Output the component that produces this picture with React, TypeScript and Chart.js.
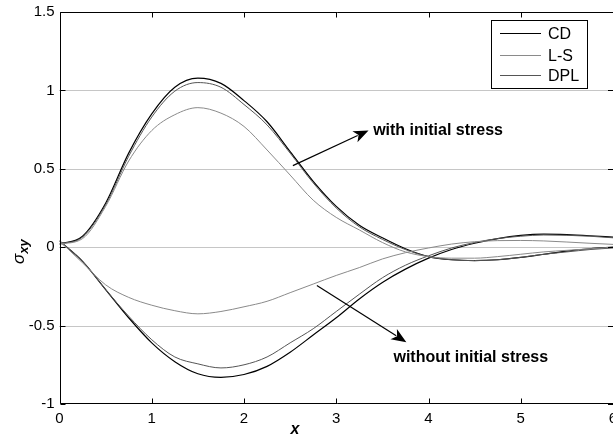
import React, { useEffect, useRef } from "react";
import { Chart, registerables } from "chart.js";

Chart.register(...registerables);

// ---- data ----
const xs = [0, 0.25, 0.5, 0.75, 1, 1.25, 1.5, 1.75, 2, 2.25, 2.5, 2.75, 3, 3.25, 3.5, 3.75, 4, 4.25, 4.5, 4.75, 5, 5.25, 5.5, 5.75, 6];

// with initial stress
const withCD = [0.02, 0.07, 0.28, 0.6, 0.85, 1.02, 1.078, 1.045, 0.935, 0.8, 0.61, 0.42, 0.26, 0.14, 0.06, -0.01, -0.06, -0.08, -0.085, -0.08, -0.065, -0.045, -0.025, -0.01, 0.0];
const withLS = [0.02, 0.055, 0.26, 0.55, 0.744, 0.845, 0.89, 0.855, 0.77, 0.62, 0.46, 0.3, 0.19, 0.11, 0.03, -0.03, -0.06, -0.07, -0.07, -0.06, -0.045, -0.03, -0.02, -0.01, 0.0];
const withDPL = [0.02, 0.065, 0.27, 0.58, 0.83, 0.995, 1.05, 1.02, 0.91, 0.78, 0.6, 0.41, 0.25, 0.13, 0.05, -0.015, -0.06, -0.08, -0.085, -0.08, -0.065, -0.045, -0.03, -0.015, -0.005];

// without initial stress
const woCD = [0.04, -0.09, -0.27, -0.45, -0.61, -0.73, -0.807, -0.83, -0.812, -0.76, -0.67, -0.56, -0.45, -0.33, -0.225, -0.14, -0.07, -0.015, 0.025, 0.055, 0.075, 0.083, 0.08, 0.073, 0.064];
const woLS = [0.04, -0.1, -0.24, -0.32, -0.37, -0.405, -0.425, -0.41, -0.38, -0.345, -0.29, -0.235, -0.18, -0.13, -0.075, -0.035, -0.005, 0.02, 0.035, 0.042, 0.043, 0.04, 0.033, 0.025, 0.018];
const woDPL = [0.04, -0.09, -0.27, -0.44, -0.59, -0.7, -0.744, -0.77, -0.75, -0.7, -0.61, -0.52, -0.41, -0.3, -0.195, -0.115, -0.055, -0.005, 0.03, 0.055, 0.07, 0.078, 0.076, 0.07, 0.06];

const xTicks = [0, 1, 2, 3, 4, 5, 6];
const yTicks = [-1, -0.5, 0, 0.5, 1, 1.5];
const gridYs = [-0.5, 0, 0.5, 1];

const legendLabels = ["CD", "L-S", "DPL"];
const legendColors = ["#000000", "#8a8a8a", "#555555"];

const FONT = "'Liberation Sans', Arial, Helvetica, sans-serif";

function pts(ys: number[]) {
  return xs.map((x, i) => ({ x, y: ys[i] }));
}

const framePlugin = {
  id: "matlabFrame",
  beforeDatasetsDraw(chart: any) {
    const { ctx, chartArea: a, scales } = chart;
    const y = scales.y;
    ctx.save();
    ctx.strokeStyle = "#8c8c8c";
    ctx.lineWidth = 1;
    ctx.setLineDash([1, 1]);
    for (const g of gridYs) {
      const py = Math.round(y.getPixelForValue(g)) + 0.5;
      ctx.beginPath();
      ctx.moveTo(a.left, py);
      ctx.lineTo(a.right, py);
      ctx.stroke();
    }
    ctx.restore();
  },
  afterDraw(chart: any) {
    const { ctx, chartArea: a, scales } = chart;
    const xS = scales.x;
    const yS = scales.y;
    ctx.save();
    ctx.strokeStyle = "#000";
    ctx.lineWidth = 1;
    ctx.setLineDash([]);
    const L = Math.round(a.left) + 0.5;
    const T = Math.round(a.top) + 0.5;
    const B = Math.round(a.bottom) - 0.5;
    const R = a.right + 2;
    ctx.beginPath();
    ctx.moveTo(L, T);
    ctx.lineTo(R, T);
    ctx.moveTo(L, T);
    ctx.lineTo(L, B);
    ctx.lineTo(R, B);
    ctx.stroke();
    // inward ticks
    const tl = 5;
    ctx.beginPath();
    for (const t of xTicks) {
      const px = Math.round(xS.getPixelForValue(t)) + 0.5;
      ctx.moveTo(px, B);
      ctx.lineTo(px, B - tl);
      ctx.moveTo(px, T);
      ctx.lineTo(px, T + tl);
    }
    for (const t of yTicks) {
      const py = Math.round(yS.getPixelForValue(t)) + 0.5;
      ctx.moveTo(L, py);
      ctx.lineTo(L + tl, py);
      ctx.moveTo(a.right, py);
      ctx.lineTo(a.right - tl, py);
    }
    ctx.stroke();

    // legend
    const bx = 491.5, by = 20.5, bw = 96, bh = 68;
    ctx.fillStyle = "#fff";
    ctx.fillRect(bx, by, bw, bh);
    ctx.strokeStyle = "#000";
    ctx.strokeRect(bx, by, bw, bh);
    const rows = [33.5, 55.5, 75.5];
    ctx.font = `16px ${FONT}`;
    ctx.textBaseline = "middle";
    ctx.textAlign = "left";
    legendLabels.forEach((lab, i) => {
      ctx.strokeStyle = legendColors[i];
      ctx.beginPath();
      ctx.moveTo(500, rows[i]);
      ctx.lineTo(541, rows[i]);
      ctx.stroke();
      ctx.fillStyle = "#000";
      ctx.fillText(lab, 548, rows[i] + 1);
    });

    // annotations
    const arrow = (x1: number, y1: number, x2: number, y2: number) => {
      const p1x = xS.getPixelForValue(x1), p1y = yS.getPixelForValue(y1);
      const p2x = xS.getPixelForValue(x2), p2y = yS.getPixelForValue(y2);
      const ang = Math.atan2(p2y - p1y, p2x - p1x);
      const hl = 15, hw = 6;
      const bxp = p2x - hl * Math.cos(ang), byp = p2y - hl * Math.sin(ang);
      ctx.strokeStyle = "#000";
      ctx.lineWidth = 1.2;
      ctx.beginPath();
      ctx.moveTo(p1x, p1y);
      ctx.lineTo(bxp + 3 * Math.cos(ang), byp + 3 * Math.sin(ang));
      ctx.stroke();
      ctx.fillStyle = "#000";
      ctx.beginPath();
      ctx.moveTo(p2x, p2y);
      ctx.lineTo(bxp - hw * Math.sin(ang), byp + hw * Math.cos(ang));
      ctx.lineTo(bxp + 4 * Math.cos(ang), byp + 4 * Math.sin(ang));
      ctx.lineTo(bxp + hw * Math.sin(ang), byp - hw * Math.cos(ang));
      ctx.closePath();
      ctx.fill();
    };
    arrow(2.53, 0.52, 3.35, 0.745);
    arrow(2.79, -0.244, 3.76, -0.606);
    ctx.font = `bold 16px ${FONT}`;
    ctx.fillStyle = "#000";
    ctx.textBaseline = "middle";
    ctx.textAlign = "left";
    ctx.fillText("with initial stress", xS.getPixelForValue(3.4), yS.getPixelForValue(0.749) + 1);
    ctx.fillText("without initial stress", xS.getPixelForValue(3.62), yS.getPixelForValue(-0.7) + 1);

    // axis titles
    ctx.textBaseline = "alphabetic";
    ctx.textAlign = "center";
    ctx.font = `bold italic 16px ${FONT}`;
    ctx.fillText("x", 295, 434);

    ctx.save();
    ctx.translate(24, 256);
    ctx.rotate(-Math.PI / 2);
    ctx.textAlign = "left";
    ctx.font = `italic 17px ${FONT}`;
    ctx.fillText("σ", -8, 0);
    const sw = ctx.measureText("σ").width;
    ctx.font = `bold italic 13px ${FONT}`;
    ctx.fillText("xy", -8 + sw, 4);
    ctx.restore();

    ctx.restore();
  },
};

export default function App() {
  const ref = useRef<HTMLCanvasElement | null>(null);
  useEffect(() => {
    document.body.style.margin = "0";
    const canvas = ref.current;
    if (!canvas) return;
    const mk = (label: string, data: number[], color: string, width = 1) => ({
      label,
      data: pts(data),
      borderColor: color,
      backgroundColor: color,
      borderWidth: width,
      pointRadius: 0,
      tension: 0.4,
      cubicInterpolationMode: "monotone" as const,
      fill: false,
    });
    const chart = new Chart(canvas, {
      type: "line",
      data: {
        datasets: [
          mk("L-S", withLS, legendColors[1]),
          mk("L-S", woLS, legendColors[1]),
          mk("DPL", withDPL, legendColors[2]),
          mk("DPL", woDPL, legendColors[2]),
          mk("CD", withCD, legendColors[0], 1.2),
          mk("CD", woCD, legendColors[0], 1.2),
        ],
      },
      options: {
        animation: false,
        responsive: false,
        devicePixelRatio: 1,
        layout: { padding: { top: 12, left: 0, right: 0, bottom: 0 } },
        plugins: { legend: { display: false }, tooltip: { enabled: false } },
        scales: {
          x: {
            type: "linear",
            min: 0,
            max: 6,
            afterBuildTicks: (s: any) => {
              s.ticks = xTicks.map((v) => ({ value: v }));
            },
            ticks: {
              color: "#000",
              font: { family: FONT, size: 15 },
              padding: 6,
              maxRotation: 0,
              autoSkip: false,
              callback: (v: any) => String(v),
            },
            grid: { display: false, drawTicks: false },
            border: { display: false },
            afterFit: (s: any) => {
              s.height = 33;
              s.paddingLeft = 0;
              s.paddingRight = 0;
            },
          },
          y: {
            type: "linear",
            min: -1,
            max: 1.5,
            afterBuildTicks: (s: any) => {
              s.ticks = yTicks.map((v) => ({ value: v }));
            },
            ticks: {
              color: "#000",
              font: { family: FONT, size: 15 },
              padding: 5,
              autoSkip: false,
              callback: (v: any) => String(v),
            },
            grid: { display: false, drawTicks: false },
            border: { display: false },
            afterFit: (s: any) => {
              s.width = 59.5;
              s.paddingTop = 0;
              s.paddingBottom = 0;
            },
          },
        },
      },
      plugins: [framePlugin],
    });
    return () => chart.destroy();
  }, []);
  return (
    <div style={{ width: 613, height: 437, position: "relative", background: "#fff" }}>
      <canvas ref={ref} width={613} height={437} style={{ display: "block" }} />
    </div>
  );
}
